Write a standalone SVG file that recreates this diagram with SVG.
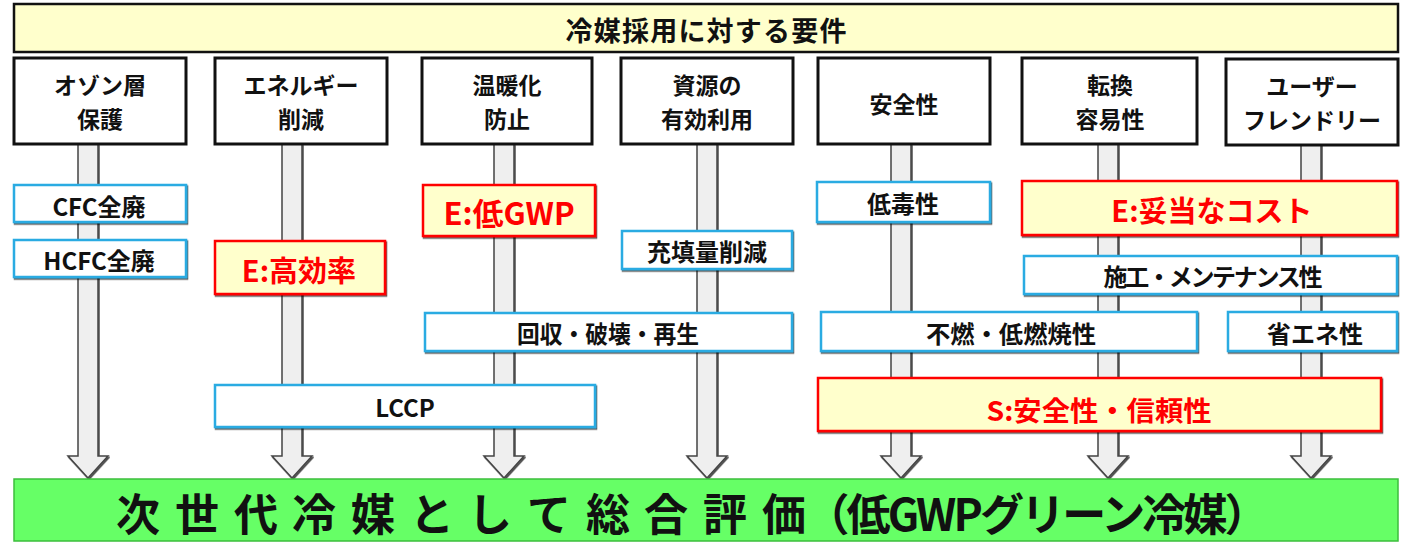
<svg xmlns="http://www.w3.org/2000/svg" width="1405" height="544" viewBox="0 0 1405 544">
<defs>
<filter id="sh" x="-5%" y="-10%" width="110%" height="130%">
<feDropShadow dx="1" dy="1.5" stdDeviation="0.6" flood-color="#000" flood-opacity="0.7"/>
</filter>
<style>
text{font-family:"Noto Sans CJK JP","Noto Sans CJK SC",sans-serif;font-weight:bold;text-anchor:middle;dominant-baseline:central;fill:#111}
.hdr{fill:#fff;stroke:#111;stroke-width:3}
.blue{fill:#fff;stroke:#29ABE2;stroke-width:2.5}
.red{fill:#FFFFCC;stroke:#FF0000;stroke-width:2.5}
.rt{fill:#FF0000}
.arr{fill:#EFEFEF;stroke:#444;stroke-width:1.5;stroke-linejoin:miter}
.h{font-size:23px}
.m{font-size:24px}
.big{font-size:29px}
</style>
</defs>
<rect width="1405" height="544" fill="#fff"/>

<g id="connectors">
<path class="arr" filter="url(#sh)" d="M78 144 V456 H68 L88 478 L108 456 H98 V144 Z"/>
<path class="arr" filter="url(#sh)" d="M282 144 V456 H272 L292 478 L312 456 H302 V144 Z"/>
<path class="arr" filter="url(#sh)" d="M494 144 V456 H484 L504 478 L524 456 H514 V144 Z"/>
<path class="arr" filter="url(#sh)" d="M697 144 V456 H687 L707 478 L727 456 H717 V144 Z"/>
<path class="arr" filter="url(#sh)" d="M891 144 V456 H881 L901 478 L921 456 H911 V144 Z"/>
<path class="arr" filter="url(#sh)" d="M1098 144 V456 H1088 L1108 478 L1128 456 H1118 V144 Z"/>
<path class="arr" filter="url(#sh)" d="M1301 144 V456 H1291 L1311 478 L1331 456 H1321 V144 Z"/>
</g>

<g id="title">
<rect x="14" y="4" width="1384" height="48" fill="#FFFFCC" stroke="#111" stroke-width="2.5"/>
<text x="706" y="29" font-size="27" textLength="281">冷媒採用に対する要件</text>
</g>

<g id="h1"><rect class="hdr" x="14" y="58" width="172" height="86"/><text class="h" x="100" y="84">オゾン層</text><text class="h" x="100" y="118">保護</text></g>
<g id="h2"><rect class="hdr" x="215" y="58" width="172" height="86"/><text class="h" x="301" y="84">エネルギー</text><text class="h" x="301" y="118">削減</text></g>
<g id="h3"><rect class="hdr" x="422" y="58" width="170" height="86"/><text class="h" x="507" y="84">温暖化</text><text class="h" x="507" y="118">防止</text></g>
<g id="h4"><rect class="hdr" x="621" y="58" width="172" height="86"/><text class="h" x="707" y="84">資源の</text><text class="h" x="707" y="118">有効利用</text></g>
<g id="h5"><rect class="hdr" x="818" y="58" width="172" height="86"/><text class="h" x="904" y="103">安全性</text></g>
<g id="h6"><rect class="hdr" x="1022" y="58" width="175" height="86"/><text class="h" x="1110" y="84">転換</text><text class="h" x="1110" y="118">容易性</text></g>
<g id="h7"><rect class="hdr" x="1226" y="59" width="172" height="86"/><text class="h" x="1312" y="85">ユーザー</text><text class="h" x="1312" y="119">フレンドリー</text></g>

<g id="cfc"><rect class="blue" filter="url(#sh)" x="14" y="185" width="172" height="37"/><text class="m" x="99" y="205">CFC全廃</text></g>
<g id="hcfc"><rect class="blue" filter="url(#sh)" x="14" y="240" width="172" height="37"/><text class="m" x="99" y="259">HCFC全廃</text></g>
<g id="e-eff"><rect class="red" filter="url(#sh)" x="215" y="241" width="170" height="53"/><text class="big rt" x="299" y="269">E:高効率</text></g>
<g id="e-gwp"><rect class="red" filter="url(#sh)" x="423" y="185" width="172" height="51"/><text class="rt" x="509" y="211" font-size="31">E:低GWP</text></g>
<g id="fill"><rect class="blue" filter="url(#sh)" x="622" y="231" width="170" height="38"/><text class="m" x="707" y="250">充填量削減</text></g>
<g id="recover"><rect class="blue" filter="url(#sh)" x="425" y="313" width="367" height="38"/><text class="m" x="608" y="332" textLength="182" lengthAdjust="spacingAndGlyphs">回収・破壊・再生</text></g>
<g id="lcc"><rect class="blue" filter="url(#sh)" x="215" y="385" width="380" height="42"/><text class="m" x="405" y="406">LCCP</text></g>
<g id="toxic"><rect class="blue" filter="url(#sh)" x="817" y="182" width="173" height="40"/><text class="m" x="903" y="202">低毒性</text></g>
<g id="e-cost"><rect class="red" filter="url(#sh)" x="1022" y="181" width="375" height="54"/><text class="big rt" x="1212" y="209">E:妥当なコスト</text></g>
<g id="maint"><rect class="blue" filter="url(#sh)" x="1024" y="256" width="373" height="38"/><text class="m" x="1213" y="275" textLength="219">施工・メンテナンス性</text></g>
<g id="flame"><rect class="blue" filter="url(#sh)" x="821" y="312" width="376" height="39"/><text class="m" x="1011" y="332" textLength="170" lengthAdjust="spacingAndGlyphs">不燃・低燃焼性</text></g>
<g id="save"><rect class="blue" filter="url(#sh)" x="1228" y="312" width="169" height="39"/><text class="m" x="1315" y="332">省エネ性</text></g>
<g id="s-safe"><rect class="red" filter="url(#sh)" x="818" y="378" width="563" height="53"/><text class="rt" x="1099" y="409" font-size="27" textLength="225" lengthAdjust="spacingAndGlyphs">S:安全性・信頼性</text></g>

<g id="result">
<rect x="14" y="479" width="1384" height="62" fill="#66FF66" stroke="#3DBE3D" stroke-width="1.5"/>
<text x="138 197 256 314 373 432 490 549 608 666 725 784" y="512" font-size="44" text-anchor="middle">次世代冷媒として総合評価</text>
<text x="1037" y="512" font-size="44" textLength="463">（低GWPグリーン冷媒）</text>
</g>
</svg>
